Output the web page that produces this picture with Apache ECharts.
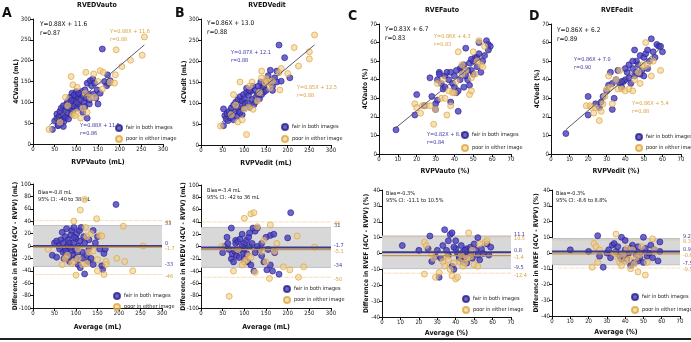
<!DOCTYPE html>
<html><head><meta charset="utf-8">
<script src="https://cdn.jsdelivr.net/npm/echarts@6/dist/echarts.min.js"></script>
<style>html,body{margin:0;padding:0;background:#fff}#c{width:691px;height:342px}</style>
</head><body><div id="c"></div>
<script>
// ---------- DATA ----------
const seriesNames = ['fair in both images', 'poor in either image'];
const panelTitles = ['RVEDVauto', 'RVEDVedit', 'RVEFauto', 'RVEFedit'];
const panelLetters = ['A', 'B', 'C', 'D'];
const topXNames = ['RVPVauto (mL)', 'RVPVedit (mL)', 'RVPVauto (%)', 'RVPVedit (%)'];
const topYNames = ['4CVauto (mL)', '4CVedit (mL)', '4CVauto (%)', '4CVedit (%)'];
const botXNames = ['Average (mL)', 'Average (mL)', 'Average (%)', 'Average (%)'];
const botYNames = ['Difference in RVEDV (4CV - RVPV) (mL)', 'Difference in RVEDV (4CV - RVPV) (mL)',
                   'Difference in RVEF (4CV - RVPV) (%)', 'Difference in RVEF (4CV - RVPV) (%)'];
const volTicks = [0, 300, 50];      // min, max, interval
const efTicks = [0, 70, 10];
const volDiffTicks = [-100, 100, 20];
const efDiffTicks = [-40, 40, 10];

const aTopFair = [[45,35],[50,55],[55,62],[55,72],[58,45],[60,52],[60,66],[62,78],[65,48],[65,86],[68,60],[70,70],[70,92],[72,55],[75,82],[75,64],[78,96],[80,74],[80,102],[82,60],[85,86],[85,112],[88,70],[90,96],[90,122],[92,80],[95,106],[95,90],[98,116],[100,100],[100,126],[102,86],[105,112],[105,96],[108,120],[110,106],[110,90],[112,126],[115,116],[118,100],[120,130],[120,90],[122,110],[125,146],[128,120],[130,96],[132,152],[135,140],[138,156],[140,120],[142,146],[145,110],[148,130],[150,96],[155,122],[160,228],[165,150],[170,140],[172,166],[175,146],[178,152],[130,106],[125,62],[115,76],[70,42],[58,44],[95,118],[105,122],[88,104],[78,88]];
const aTopPoor = [[37,35],[257,257],[192,226],[225,201],[252,213],[205,186],[190,166],[188,146],[155,176],[162,172],[122,172],[88,162],[92,142],[102,136],[120,122],[132,112],[115,86],[100,76],[92,70],[80,92],[75,112],[62,52],[125,76],[160,132],[150,150],[142,112],[110,62],[96,68],[178,148],[140,168]];
const bTopFair = [[180,238],[193,208],[205,160],[175,176],[170,160],[160,150],[165,140],[150,152],[140,136],[145,126],[130,122],[125,102],[52,46],[52,86],[55,70],[58,62],[60,75],[62,58],[65,80],[68,65],[70,88],[72,72],[75,60],[75,95],[78,78],[80,102],[82,68],[85,90],[85,108],[88,80],[90,115],[92,96],[95,72],[95,105],[98,120],[100,88],[100,110],[102,98],[105,125],[105,135],[108,100],[110,118],[112,90],[115,128],[118,108],[120,140],[122,96],[125,130],[128,115],[132,140],[135,110],[138,150],[140,120],[145,140],[150,130],[155,165],[160,178],[165,130],[175,150],[185,152],[112,130],[90,78]];
const bTopPoor = [[262,262],[250,222],[250,205],[225,188],[215,232],[200,170],[185,182],[180,172],[165,152],[160,136],[155,150],[150,158],[140,176],[140,160],[118,150],[112,140],[90,150],[75,120],[85,55],[105,25],[45,45],[110,90],[120,85],[130,105],[182,131],[148,148],[70,72],[95,60],[100,85],[80,95],[135,125]];
const cTopFair = [[9,13],[19,21],[20,32],[27,41],[24,26],[28,31],[30,27],[30,24],[31,29],[31,40],[32,44],[32,43],[33,38],[34,35],[35,42],[36,44],[37,40],[38,44],[39,38],[40,42],[40,36],[41,33],[42,34],[43,46],[44,44],[45,48],[45,36],[46,42],[46,57],[47,40],[48,49],[48,37],[49,45],[50,50],[50,43],[51,52],[52,52],[52,47],[53,60],[53,54],[54,44],[55,50],[56,53],[57,61],[58,59],[59,58],[58,56],[42,23],[47,45],[43,40],[38,28],[35,36],[44,47],[41,45],[49,51]];
const cTopPoor = [[19,27],[20,25],[22,22],[23,26],[25,26],[27,26],[29,16],[30,24],[31,38],[33,30],[34,40],[36,21],[37,34],[38,26],[39,33],[40,33],[41,39],[42,55],[44,43],[46,45],[48,32],[49,34],[49,41],[50,55],[51,43],[52,50],[53,61],[54,48],[55,47],[56,58],[44,48],[35,30]];
const dTopFair = [[8,11],[20,31],[20,21],[24,27],[26,25],[27,28],[28,31],[30,34],[31,37],[32,44],[33,24],[33,38],[34,30],[35,40],[36,45],[37,38],[38,36],[39,39],[40,40],[41,44],[42,48],[43,38],[44,46],[45,42],[45,56],[46,50],[47,48],[48,53],[49,45],[50,52],[50,42],[51,54],[52,46],[53,50],[54,62],[55,55],[56,52],[57,59],[58,58],[59,58],[60,55],[48,43],[42,41],[38,39],[46,44],[52,56],[40,46],[44,50]];
const dTopPoor = [[19,26],[21,26],[22,25],[23,22],[26,18],[27,23],[28,27],[29,31],[30,35],[31,42],[32,36],[35,40],[36,35],[38,35],[40,34],[42,35],[44,34],[45,40],[47,44],[48,38],[49,48],[50,47],[51,60],[52,48],[54,42],[55,50],[59,45],[37,45],[33,27],[24,25]];

const aBotFair = [[45,-15],[50,5],[55,-18],[55,8],[60,0],[62,-5],[65,10],[68,22],[70,-10],[70,5],[72,-20],[75,15],[75,-3],[78,28],[80,0],[80,-12],[82,10],[85,-25],[85,5],[88,18],[90,-8],[90,25],[92,-15],[95,5],[95,30],[98,-5],[100,12],[100,-20],[102,20],[105,-30],[105,0],[108,25],[110,-35],[110,8],[112,30],[115,-10],[118,15],[120,-45],[120,5],[125,-15],[128,-25],[130,10],[135,-20],[140,25],[140,-30],[145,5],[150,15],[155,-5],[160,-32],[162,-38],[165,-12],[168,-5],[193,67],[130,-5],[115,-20],[88,-2],[96,14],[104,-10],[76,-8],[84,-18]];
const aBotPoor = [[120,75],[110,58],[148,44],[95,40],[210,32],[122,30],[35,-5],[68,-30],[75,-20],[80,-15],[90,-28],[95,-25],[100,-47],[105,-20],[115,-30],[125,-28],[130,-10],[135,20],[140,-8],[150,-22],[155,17],[160,16],[165,-46],[170,-25],[195,-20],[213,-25],[232,-40],[256,0],[105,-5],[150,-40],[170,-30],[125,15]];
const bBotFair = [[207,55],[200,14],[70,30],[160,18],[130,30],[125,25],[80,10],[60,15],[55,0],[50,-10],[62,5],[65,-5],[70,-20],[72,-12],[75,-25],[78,-8],[80,5],[82,-15],[85,8],[88,-18],[90,12],[92,-5],[95,20],[98,-10],[100,5],[100,-20],[105,10],[108,-25],[110,15],[112,0],[115,-30],[118,5],[120,30],[122,-40],[125,-10],[130,0],[135,-5],[140,-15],[145,-25],[150,15],[152,-38],[155,-5],[160,-30],[165,-40],[170,-10],[180,-45],[168,20],[140,5],[100,-3],[95,0],[86,-6],[106,-12],[112,22]];
const bBotPoor = [[65,-81],[115,53],[122,55],[100,46],[130,32],[160,35],[222,17],[262,-1],[48,0],[75,-40],[85,-5],[95,-30],[100,-25],[105,-22],[110,-15],[125,-42],[140,-8],[150,-25],[158,-52],[170,-8],[190,-33],[205,-38],[225,-50],[237,-33],[115,-18],[145,10],[175,5]];
const cBotFair = [[11,5],[20,2],[25,3],[26,11],[27,-5],[29,-2],[30,2],[31,-15],[32,-3],[33,5],[34,15],[35,2],[36,8],[37,12],[38,-8],[38,13],[39,-10],[40,3],[40,8],[41,0],[42,-3],[43,5],[44,-5],[44,1],[45,-2],[46,3],[46,-6],[47,0],[48,4],[49,-3],[50,6],[51,2],[52,10],[52,-1],[53,-4],[54,3],[55,0],[57,6],[58,-1],[59,4],[42,-2],[45,2],[48,-1],[36,-1],[39,4]];
const cBotPoor = [[23,7],[24,5],[23,-13],[27,0],[28,-3],[29,-15],[31,-12],[33,-5],[34,-8],[35,-2],[36,-4],[37,-10],[38,-14],[40,-16],[41,-15],[42,-5],[44,-8],[45,-6],[46,-3],[47,13],[48,-2],[49,2],[50,-7],[52,-8],[53,6],[56,7],[57,8],[39,-6],[43,-1]];
const dBotFair = [[10,2],[20,1],[25,11],[26,-2],[28,-9],[30,0],[31,2],[32,-3],[33,5],[34,6],[35,1],[36,4],[37,-2],[38,10],[39,-1],[40,8],[40,2],[41,-4],[42,0],[43,-8],[44,5],[45,-6],[45,2],[46,-1],[47,4],[47,-5],[48,-3],[49,1],[50,10],[50,-6],[51,3],[52,-2],[53,0],[54,5],[55,-3],[56,2],[58,-5],[59,7],[59,1],[43,3],[38,-4]];
const dBotPoor = [[22,-9],[23,6],[24,4],[25,-6],[26,2],[35,12],[36,-3],[37,-6],[38,-8],[39,-1],[40,-5],[41,3],[42,-4],[43,-10],[44,2],[45,-7],[46,-3],[47,-12],[48,-1],[49,4],[51,-14],[52,-6],[55,9],[56,2],[34,0]];

// regression lines: [slope, intercept], fitted x range
const topFits = [[0.88, 11.6], [0.86, 13.0], [0.83, 6.7], [0.86, 6.2]];
const topFitRanges = [[38, 257], [48, 262], [9, 60], [8, 60]];

// Bland-Altman lines: [upper LoA, bias, lower LoA] and their printed labels
const aBlueLines = [33, 0, -33],      aBlueLabels = ['33', '0', '-33'];
const aOrangeLines = [41, -1.7, -46], aOrangeLabels = ['41', '-1.7', '-46'];
const bBlueLines = [31, -1.7, -34],   bBlueLabels = ['31', '-1.7', '-34'];
const bOrangeLines = [40, -5.1, -50], bOrangeLabels = ['40', '-5.1', '-50'];
const cBlueLines = [11.1, 0.8, -9.5], cBlueLabels = ['11.1', '0.8', '-9.5'];
const cOrangeLines = [10.5, -1.4, -12.4], cOrangeLabels = ['10.5', '-1.4', '-12.4'];
const dBlueLines = [9.2, 0.9, -7.5],  dBlueLabels = ['9.2', '0.9', '-7.5'];
const dOrangeLines = [8.3, -0.6, -9.5], dOrangeLabels = ['8.3', '-0.6', '-9.5'];

const biasTexts = [['Bias=-0.8 mL', '95% CI: -40 to 38 mL'], ['Bias=-3.4 mL', '95% CI: -42 to 36 mL'],
                   ['Bias=-0.3%', '95% CI: -11.1 to 10.5%'], ['Bias=-0.3%', '95% CI: -8.6 to 8.8%']];
const eqAll = [['Y=0.88X + 11.6', 'r=0.87'], ['Y=0.86X + 13.0', 'r=0.88'], ['Y=0.83X + 6.7', 'r=0.83'], ['Y=0.86X + 6.2', 'r=0.89']];
const eqFair = [['Y=0.88X + 11.5', 'r=0.86'], ['Y=0.87X + 12.1', 'r=0.88'], ['Y=0.82X + 8.9', 'r=0.84'], ['Y=0.86X + 7.0', 'r=0.90']];
const eqPoor = [['Y=0.88X + 11.6', 'r=0.88'], ['Y=0.85X + 12.5', 'r=0.88'], ['Y=0.86X + 4.3', 'r=0.83'], ['Y=0.86X + 5.4', 'r=0.88']];

// ---------- LAYOUT / STYLE ----------
const FONT = "'Liberation Sans Narrow','DejaVu Sans Condensed','Liberation Sans',sans-serif";
const BLUE = '#4a3fc2', BLUE_EDGE = '#261f86', BLUE_TXT = '#3a34a0';
const ORANGE = 'rgba(238,205,140,0.75)', ORANGE_EDGE = '#e0a63a', ORANGE_TXT = '#d9a03c';

const grids = [
  {left: 33, top: 19, width: 130, height: 125},
  {left: 201, top: 19, width: 130, height: 126},
  {left: 379, top: 24, width: 132, height: 130},
  {left: 551, top: 24, width: 130, height: 130},
  {left: 33, top: 184, width: 129, height: 124},
  {left: 201, top: 185, width: 130, height: 123},
  {left: 382, top: 190, width: 129, height: 127},
  {left: 552, top: 190, width: 128, height: 126}
];
const topXGaps = [15, 15, 14, 14], topYGaps = [13, 13, 10, 10];
const botXGaps = [16, 16, 13, 13], botYGaps = [14, 14, 12, 12];
const topData = [[aTopFair, aTopPoor], [bTopFair, bTopPoor], [cTopFair, cTopPoor], [dTopFair, dTopPoor]];
const botData = [[aBotFair, aBotPoor], [bBotFair, bBotPoor], [cBotFair, cBotPoor], [dBotFair, dBotPoor]];
const botLines = [[aBlueLines, aBlueLabels, aOrangeLines, aOrangeLabels], [bBlueLines, bBlueLabels, bOrangeLines, bOrangeLabels],
                  [cBlueLines, cBlueLabels, cOrangeLines, cOrangeLabels], [dBlueLines, dBlueLabels, dOrangeLines, dOrangeLabels]];

function axis(ticks, gridIndex, name, gap, isY) {
  return {
    type: 'value', gridIndex, min: ticks[0], max: ticks[1], interval: ticks[2],
    name, nameLocation: 'middle', nameGap: gap, nameMoveOverlap: false,
    nameTextStyle: {fontFamily: FONT, fontWeight: 'bold', fontSize: isY ? 6.5 : 7, color: '#111'},
    axisLine: {show: true, onZero: false, lineStyle: {color: '#111', width: 1}},
    axisTick: {show: true, length: 3, lineStyle: {color: '#111', width: 1}},
    axisLabel: {fontFamily: FONT, fontSize: 6, color: '#222', margin: 2},
    splitLine: {show: false}
  };
}

const xAxes = [], yAxes = [], series = [];
for (let i = 0; i < 4; i++) {
  const t = i < 2 ? volTicks : efTicks;
  xAxes.push(axis(t, i, topXNames[i], topXGaps[i], false));
  yAxes.push(axis(t, i, topYNames[i], topYGaps[i], true));
}
for (let i = 0; i < 4; i++) {
  const xt = i < 2 ? volTicks : efTicks;
  const yt = i < 2 ? volDiffTicks : efDiffTicks;
  xAxes.push(axis(xt, 4 + i, botXNames[i], botXGaps[i], false));
  yAxes.push(axis(yt, 4 + i, botYNames[i], botYGaps[i], true));
}

function scatter(idx, data, k) {
  return {
    type: 'scatter', name: seriesNames[k], xAxisIndex: idx, yAxisIndex: idx, data,
    symbol: 'circle', symbolSize: 6, z: 3 + k,
    itemStyle: k === 0 ? {color: BLUE, borderColor: BLUE_EDGE, borderWidth: 0.8}
                       : {color: ORANGE, borderColor: ORANGE_EDGE, borderWidth: 0.9}
  };
}

// top panels
for (let i = 0; i < 4; i++) {
  const [m, b] = topFits[i], [x0, x1] = topFitRanges[i];
  series.push({
    type: 'line', name: 'fit' + i, xAxisIndex: i, yAxisIndex: i, symbol: 'none', z: 5,
    data: [[x0, m * x0 + b], [x1, m * x1 + b]],
    lineStyle: {color: '#5a5a78', width: 1}
  });
  series.push(scatter(i, topData[i][0], 0));
  series.push(scatter(i, topData[i][1], 1));
}
// bottom panels
for (let i = 0; i < 4; i++) {
  const idx = 4 + i;
  const xt = i < 2 ? volTicks : efTicks;
  const [bl, blLab, ol, olLab] = botLines[i];
  const mkLine = (v, lab, color, width, type, z, off, extra) => Object.assign({
    type: 'line', name: 'ba' + idx + '_' + lab + color, xAxisIndex: idx, yAxisIndex: idx, symbol: 'none', z,
    data: [[xt[0], v], [xt[1], v]], silent: true,
    lineStyle: {color, width, type},
    endLabel: {show: true, formatter: lab, color: color === '#3a3a90' || color === '#b5b5c5' ? BLUE_TXT : ORANGE_TXT,
               fontFamily: FONT, fontSize: 5.5, distance: 3, offset: [0, off]}
  }, extra || {});
  series.push(mkLine(bl[0], blLab[0], '#b5b5c5', 0.8, 'solid', 1, -1.5, {
    markArea: {silent: true, itemStyle: {color: '#d8d8d8'}, data: [[{yAxis: bl[0]}, {yAxis: bl[2]}]]}
  }));
  series.push(mkLine(bl[2], blLab[2], '#b5b5c5', 0.8, 'solid', 2, -1.5));
  series.push(mkLine(ol[0], olLab[0], ORANGE_EDGE, 0.6, 'dotted', 2, 2));
  series.push(mkLine(ol[2], olLab[2], ORANGE_EDGE, 0.6, 'dotted', 2, 2));
  series.push(scatter(idx, botData[i][0], 0));
  series.push(scatter(idx, botData[i][1], 1));
  series.push(mkLine(bl[1], blLab[1], '#3a3a90', 2, 'solid', 6, -2));
  series.push(mkLine(ol[1], olLab[1], '#c99440', 1.3, 'solid', 6, 2));
}

// legends
const legendPos = [[115, 124, 3], [281, 123, 4], [461, 131, 5], [635, 133, 3], [113, 292, 3], [283, 285, 3], [462, 295, 3], [631, 293, 5]];
const legends = legendPos.map(([l, t, g]) => ({
  left: l, top: t, orient: 'vertical', itemWidth: 6, itemHeight: 6, itemGap: g, padding: 0,
  selectedMode: false, data: seriesNames.map(n => ({name: n, icon: 'circle'})),
  textStyle: {fontFamily: FONT, fontSize: 5.5, color: '#222', padding: [0, 0, 0, -1]}
}));

// text annotations
const G = [];
function txt(x, y, text, font, fill, align) {
  G.push({type: 'text', x, y, silent: true,
    style: {text, font, fill, textAlign: align || 'left', textVerticalAlign: 'middle', align: align || 'left', verticalAlign: 'middle'}});
}
const letterPos = [[2, 13], [175, 13], [348, 16], [529, 16]];
const titlePos = [[97, 5], [267, 5], [442, 10], [617, 10]];
panelLetters.forEach((L, i) => txt(letterPos[i][0], letterPos[i][1], L, 'bold 14px ' + FONT, '#111'));
panelTitles.forEach((T, i) => txt(titlePos[i][0], titlePos[i][1], T, 'bold 7px ' + FONT, '#111', 'center'));
const allPos = [[40, 24], [207, 23], [385, 29], [557, 30]];
const fairPos = [[80, 126], [231, 53], [427, 135], [574, 60]];
const poorPos = [[110, 32], [297, 88], [434, 37], [632, 104]];
for (let i = 0; i < 4; i++) {
  txt(allPos[i][0], allPos[i][1], eqAll[i][0], '6.5px ' + FONT, '#111');
  txt(allPos[i][0], allPos[i][1] + 9, eqAll[i][1], '6.5px ' + FONT, '#111');
  txt(fairPos[i][0], fairPos[i][1], eqFair[i][0], '5.5px ' + FONT, BLUE_TXT);
  txt(fairPos[i][0], fairPos[i][1] + 8, eqFair[i][1], '5.5px ' + FONT, BLUE_TXT);
  txt(poorPos[i][0], poorPos[i][1], eqPoor[i][0], '5.5px ' + FONT, ORANGE_TXT);
  txt(poorPos[i][0], poorPos[i][1] + 8, eqPoor[i][1], '5.5px ' + FONT, ORANGE_TXT);
}
const biasPos = [[38, 193], [207, 191], [386, 194], [556, 194]];
for (let i = 0; i < 4; i++) {
  txt(biasPos[i][0], biasPos[i][1], biasTexts[i][0], '5.5px ' + FONT, '#111');
  txt(biasPos[i][0], biasPos[i][1] + 7, biasTexts[i][1], '5.5px ' + FONT, '#111');
}
G.push({type: 'rect', shape: {x: 0, y: 338, width: 691, height: 2}, style: {fill: '#222'}, silent: true});

const chart = echarts.init(document.getElementById('c'), null, {renderer: 'canvas'});
chart.setOption({
  animation: false, backgroundColor: '#fff',
  grid: grids, xAxis: xAxes, yAxis: yAxes, series, legend: legends, graphic: G
});
</script></body></html>
